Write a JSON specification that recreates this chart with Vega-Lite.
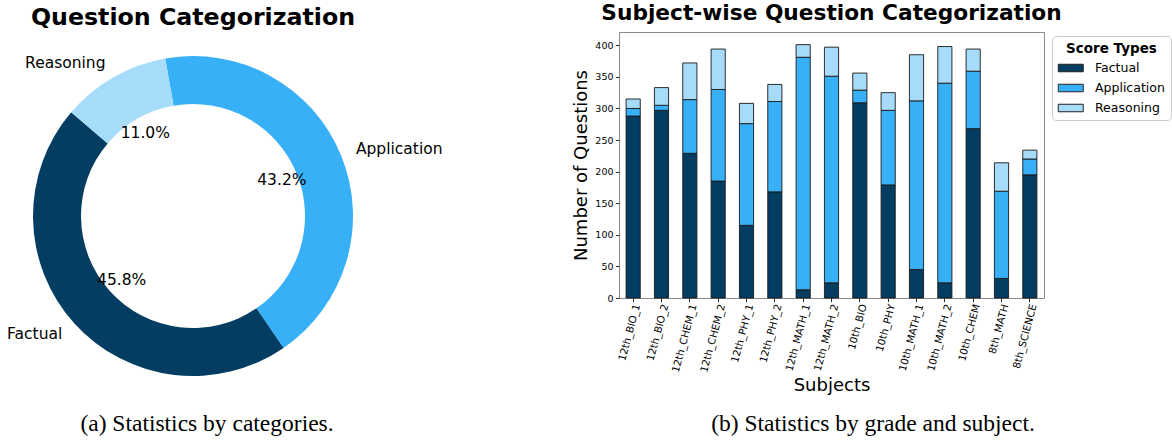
{
  "$schema": "https://vega.github.io/schema/vega-lite/v6.json",
  "padding": {"left": 0, "top": 2, "right": 0, "bottom": 0},
  "background": "white",
  "config": {"view": {"stroke": null}, "font": "DejaVu Sans"},
  "datasets": {
    "pie": [
      {"type": "Application", "share": 0.432},
      {"type": "Factual", "share": 0.458},
      {"type": "Reasoning", "share": 0.110}
    ],
    "bars": [
      {"subject": "12th_BIO_1", "type": "Factual", "count": 288},
      {"subject": "12th_BIO_1", "type": "Application", "count": 12},
      {"subject": "12th_BIO_1", "type": "Reasoning", "count": 15},
      {"subject": "12th_BIO_2", "type": "Factual", "count": 297},
      {"subject": "12th_BIO_2", "type": "Application", "count": 8},
      {"subject": "12th_BIO_2", "type": "Reasoning", "count": 28},
      {"subject": "12th_CHEM_1", "type": "Factual", "count": 229},
      {"subject": "12th_CHEM_1", "type": "Application", "count": 85},
      {"subject": "12th_CHEM_1", "type": "Reasoning", "count": 58},
      {"subject": "12th_CHEM_2", "type": "Factual", "count": 185},
      {"subject": "12th_CHEM_2", "type": "Application", "count": 145},
      {"subject": "12th_CHEM_2", "type": "Reasoning", "count": 64},
      {"subject": "12th_PHY_1", "type": "Factual", "count": 115},
      {"subject": "12th_PHY_1", "type": "Application", "count": 161},
      {"subject": "12th_PHY_1", "type": "Reasoning", "count": 32},
      {"subject": "12th_PHY_2", "type": "Factual", "count": 168},
      {"subject": "12th_PHY_2", "type": "Application", "count": 143},
      {"subject": "12th_PHY_2", "type": "Reasoning", "count": 27},
      {"subject": "12th_MATH_1", "type": "Factual", "count": 13},
      {"subject": "12th_MATH_1", "type": "Application", "count": 368},
      {"subject": "12th_MATH_1", "type": "Reasoning", "count": 20},
      {"subject": "12th_MATH_2", "type": "Factual", "count": 24},
      {"subject": "12th_MATH_2", "type": "Application", "count": 327},
      {"subject": "12th_MATH_2", "type": "Reasoning", "count": 46},
      {"subject": "10th_BIO", "type": "Factual", "count": 309},
      {"subject": "10th_BIO", "type": "Application", "count": 20},
      {"subject": "10th_BIO", "type": "Reasoning", "count": 27},
      {"subject": "10th_PHY", "type": "Factual", "count": 179},
      {"subject": "10th_PHY", "type": "Application", "count": 118},
      {"subject": "10th_PHY", "type": "Reasoning", "count": 28},
      {"subject": "10th_MATH_1", "type": "Factual", "count": 45},
      {"subject": "10th_MATH_1", "type": "Application", "count": 267},
      {"subject": "10th_MATH_1", "type": "Reasoning", "count": 73},
      {"subject": "10th_MATH_2", "type": "Factual", "count": 24},
      {"subject": "10th_MATH_2", "type": "Application", "count": 316},
      {"subject": "10th_MATH_2", "type": "Reasoning", "count": 58},
      {"subject": "10th_CHEM", "type": "Factual", "count": 268},
      {"subject": "10th_CHEM", "type": "Application", "count": 91},
      {"subject": "10th_CHEM", "type": "Reasoning", "count": 35},
      {"subject": "8th_MATH", "type": "Factual", "count": 31},
      {"subject": "8th_MATH", "type": "Application", "count": 138},
      {"subject": "8th_MATH", "type": "Reasoning", "count": 45},
      {"subject": "8th_SCIENCE", "type": "Factual", "count": 195},
      {"subject": "8th_SCIENCE", "type": "Application", "count": 25},
      {"subject": "8th_SCIENCE", "type": "Reasoning", "count": 14}
    ]
  },
  "columns": 2,
  "spacing": {"column": 205, "row": 9},
  "bounds": "flush",
  "align": "each",
  "resolve": {"scale": {"color": "independent"}, "legend": {"color": "independent"}},
  "concat": [
    {
      "width": 386,
      "height": 368,
      "data": {"name": "pie"},
      "title": {"text": "Question Categorization", "font": "DejaVu Sans", "fontSize": 23.7, "fontWeight": "bold", "color": "black", "anchor": "middle", "frame": "group", "baseline": "alphabetic", "offset": -16.7},
      "encoding": {
        "theta": {"field": "share", "type": "quantitative", "stack": true, "scale": {"domain": [0, 1], "range": [-0.17453, 6.10865]}},
        "order": {"field": "type", "type": "nominal", "sort": "ascending"}
      },
      "layer": [
        {
          "mark": {"type": "arc", "innerRadius": 112, "outerRadius": 160},
          "encoding": {
            "color": {"field": "type", "type": "nominal", "scale": {"domain": ["Factual", "Application", "Reasoning"], "range": ["#033d62", "#38b0f8", "#a6dcfa"]}, "legend": null}
          }
        },
        {
          "mark": {"type": "text", "radius": 96, "fontSize": 15.5, "color": "black", "align": "center", "baseline": "middle"},
          "encoding": {"text": {"field": "share", "type": "quantitative", "format": ".1%"}}
        },
        {
          "mark": {"type": "text", "radius": 176, "fontSize": 15.5, "color": "black", "align": "left", "baseline": "middle"},
          "encoding": {"text": {"condition": {"test": "datum.type === 'Application'", "field": "type", "type": "nominal"}, "value": ""}}
        },
        {
          "mark": {"type": "text", "radius": 176, "fontSize": 15.5, "color": "black", "align": "right", "baseline": "middle"},
          "encoding": {"text": {"condition": {"test": "datum.type !== 'Application'", "field": "type", "type": "nominal"}, "value": ""}}
        }
      ]
    },
    {
      "width": 425,
      "height": 266,
      "data": {"name": "bars"},
      "transform": [{"calculate": "indexof(['Factual','Application','Reasoning'], datum.type)", "as": "stack_rank"}],
      "title": {"text": "Subject-wise Question Categorization", "font": "DejaVu Sans", "fontSize": 21.7, "fontWeight": "bold", "color": "black", "anchor": "middle", "frame": "group", "baseline": "alphabetic", "offset": -9.7},
      "view": {"stroke": "#8a8a8a"},
      "mark": {"type": "bar", "stroke": "#1a1a1a", "strokeWidth": 0.9},
      "encoding": {
        "x": {
          "field": "subject", "type": "nominal", "sort": null,
          "scale": {"paddingInner": 0.5, "paddingOuter": 0.25},
          "axis": {"title": "Subjects", "titleFontSize": 18, "titleFontWeight": "normal", "titleColor": "black", "titlePadding": 3,
                   "labelAngle": -75, "labelAlign": "right", "labelBaseline": "middle", "labelFontSize": 10.2, "labelColor": "black",
                   "labelPadding": 2.5, "labelOffset": 4, "tickSize": 3.5, "tickColor": "#222", "domain": false, "labelOverlap": false}
        },
        "y": {
          "field": "count", "type": "quantitative", "stack": "zero",
          "scale": {"domain": [0, 421], "nice": false},
          "axis": {"title": "Number of Questions", "values": [0, 50, 100, 150, 200, 250, 300, 350, 400], "titleFontSize": 18, "titleFontWeight": "normal", "titleColor": "black", "titlePadding": 4,
                   "labelFontSize": 9.5, "labelColor": "black", "labelPadding": 2.5, "tickSize": 3.5, "tickColor": "#222", "domain": false, "grid": false}
        },
        "color": {
          "field": "type", "type": "nominal",
          "scale": {"domain": ["Factual", "Application", "Reasoning"], "range": ["#033d62", "#38b0f8", "#a6dcfa"]},
          "legend": {"title": "Score Types", "orient": "none", "legendX": 433, "legendY": 4, "titleFontSize": 13.5, "titleFontWeight": "bold", "titleColor": "black", "titleAnchor": "middle", "titlePadding": 6,
                     "labelFontSize": 12.5, "labelColor": "black", "labelOffset": 23.5, "rowPadding": 6, "padding": 5.5,
                     "symbolType": "M-1,-0.6H3V0.6H-1Z", "symbolSize": 156.25, "symbolStrokeColor": "#222", "symbolStrokeWidth": 1, "symbolOpacity": 1,
                     "strokeColor": "#cccccc", "fillColor": "white", "cornerRadius": 4}
        },
        "order": {"field": "stack_rank", "type": "quantitative", "sort": "ascending"}
      }
    },
    {
      "width": 414,
      "height": 30,
      "data": {"values": [{"caption": "(a) Statistics by categories."}]},
      "mark": {"type": "text", "font": "Liberation Serif", "fontSize": 23.5, "color": "black", "baseline": "middle", "align": "center"},
      "encoding": {"text": {"field": "caption", "type": "nominal"}}
    },
    {
      "width": 508,
      "height": 30,
      "data": {"values": [{"caption": "(b) Statistics by grade and subject."}]},
      "mark": {"type": "text", "font": "Liberation Serif", "fontSize": 23.5, "color": "black", "baseline": "middle", "align": "center"},
      "encoding": {"text": {"field": "caption", "type": "nominal"}}
    }
  ]
}
